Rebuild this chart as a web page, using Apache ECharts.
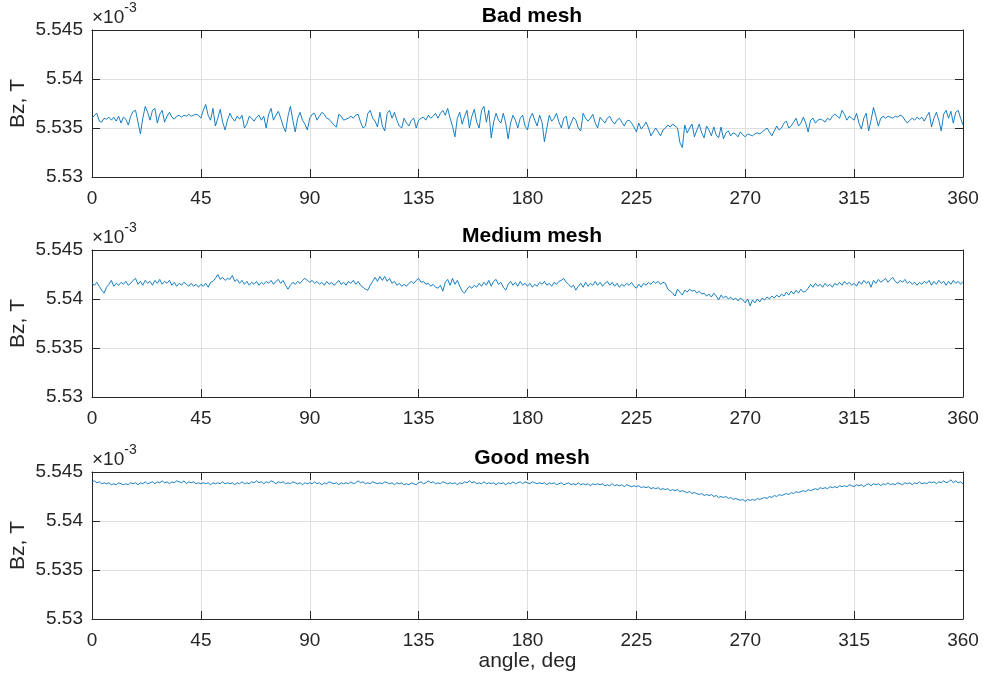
<!DOCTYPE html>
<html>
<head>
<meta charset="utf-8">
<title>Bz vs angle</title>
<script src="https://cdn.jsdelivr.net/npm/echarts@6/dist/echarts.min.js"></script>
<style>
html, body { margin: 0; padding: 0; background: #fff; }
#chart { width: 983px; height: 686px; }
</style>
</head>
<body>
<div id="chart"></div>
<script>
// titles of the three panels
var panelTitles = ['Bad mesh', 'Medium mesh', 'Good mesh'];

// sample grid, degrees
var angles = [];
for (var a = 0; a <= 360; a++) angles.push(a);

// Bz values, in units of 1e-3 T at each degree
var badMesh = [
  5.5360,5.5363,5.5365,5.5357,5.5356,5.5360,5.5359,5.5361,5.5358,5.5361,
  5.5357,5.5362,5.5355,5.5361,5.5359,5.5353,5.5362,5.5367,5.5368,5.5356,
  5.5344,5.5360,5.5372,5.5366,5.5358,5.5368,5.5370,5.5355,5.5364,5.5368,
  5.5356,5.5362,5.5366,5.5361,5.5359,5.5362,5.5363,5.5361,5.5363,5.5362,
  5.5364,5.5362,5.5363,5.5364,5.5363,5.5360,5.5368,5.5374,5.5363,5.5358,
  5.5370,5.5352,5.5360,5.5369,5.5356,5.5348,5.5358,5.5365,5.5360,5.5357,
  5.5362,5.5359,5.5363,5.5350,5.5354,5.5362,5.5360,5.5357,5.5361,5.5363,
  5.5358,5.5362,5.5350,5.5364,5.5370,5.5358,5.5363,5.5367,5.5360,5.5352,
  5.5346,5.5362,5.5372,5.5358,5.5346,5.5360,5.5366,5.5358,5.5354,5.5348,
  5.5360,5.5364,5.5365,5.5358,5.5362,5.5366,5.5364,5.5360,5.5359,5.5356,
  5.5353,5.5351,5.5364,5.5362,5.5358,5.5359,5.5360,5.5362,5.5360,5.5363,
  5.5364,5.5356,5.5350,5.5352,5.5365,5.5368,5.5360,5.5357,5.5351,5.5366,
  5.5352,5.5347,5.5365,5.5368,5.5360,5.5366,5.5358,5.5352,5.5350,5.5360,
  5.5355,5.5352,5.5358,5.5360,5.5350,5.5358,5.5360,5.5361,5.5358,5.5363,
  5.5360,5.5362,5.5365,5.5360,5.5365,5.5368,5.5363,5.5370,5.5360,5.5352,
  5.5341,5.5360,5.5366,5.5354,5.5362,5.5368,5.5350,5.5362,5.5369,5.5356,
  5.5350,5.5368,5.5372,5.5356,5.5368,5.5340,5.5356,5.5365,5.5358,5.5355,
  5.5365,5.5355,5.5339,5.5355,5.5363,5.5358,5.5350,5.5360,5.5363,5.5352,
  5.5348,5.5360,5.5365,5.5358,5.5352,5.5363,5.5356,5.5336,5.5350,5.5363,
  5.5357,5.5360,5.5365,5.5356,5.5350,5.5360,5.5362,5.5349,5.5355,5.5361,
  5.5358,5.5350,5.5347,5.5365,5.5360,5.5357,5.5360,5.5364,5.5355,5.5350,
  5.5361,5.5358,5.5355,5.5360,5.5362,5.5357,5.5354,5.5358,5.5360,5.5356,
  5.5352,5.5357,5.5358,5.5355,5.5351,5.5346,5.5355,5.5349,5.5352,5.5356,
  5.5350,5.5342,5.5346,5.5350,5.5346,5.5342,5.5348,5.5350,5.5353,5.5351,
  5.5354,5.5352,5.5350,5.5335,5.5330,5.5353,5.5345,5.5350,5.5354,5.5341,
  5.5348,5.5354,5.5345,5.5340,5.5352,5.5348,5.5342,5.5351,5.5343,5.5340,
  5.5351,5.5339,5.5345,5.5347,5.5342,5.5345,5.5344,5.5341,5.5346,5.5343,
  5.5341,5.5344,5.5343,5.5342,5.5344,5.5345,5.5344,5.5346,5.5348,5.5350,
  5.5346,5.5342,5.5347,5.5352,5.5348,5.5350,5.5355,5.5357,5.5350,5.5352,
  5.5356,5.5360,5.5352,5.5355,5.5361,5.5355,5.5346,5.5358,5.5360,5.5355,
  5.5358,5.5359,5.5358,5.5356,5.5360,5.5358,5.5362,5.5364,5.5362,5.5360,
  5.5368,5.5364,5.5358,5.5362,5.5360,5.5358,5.5365,5.5355,5.5349,5.5360,
  5.5365,5.5347,5.5358,5.5371,5.5362,5.5352,5.5360,5.5362,5.5360,5.5362,
  5.5361,5.5360,5.5362,5.5361,5.5363,5.5362,5.5358,5.5355,5.5358,5.5360,
  5.5358,5.5361,5.5359,5.5361,5.5357,5.5362,5.5366,5.5351,5.5360,5.5366,
  5.5358,5.5347,5.5364,5.5368,5.5360,5.5367,5.5355,5.5366,5.5368,5.5360,
  5.5353
];

var mediumMesh = [
  5.5416,5.5414,5.5417,5.5413,5.5409,5.5406,5.5412,5.5415,5.5419,5.5413,
  5.5416,5.5414,5.5417,5.5415,5.5418,5.5414,5.5416,5.5419,5.5421,5.5415,
  5.5418,5.5414,5.5419,5.5416,5.5418,5.5414,5.5419,5.5416,5.5420,5.5415,
  5.5418,5.5416,5.5419,5.5414,5.5417,5.5413,5.5416,5.5414,5.5417,5.5415,
  5.5413,5.5416,5.5413,5.5415,5.5412,5.5415,5.5413,5.5416,5.5412,5.5417,
  5.5418,5.5421,5.5425,5.5420,5.5422,5.5419,5.5421,5.5420,5.5424,5.5418,
  5.5420,5.5416,5.5419,5.5415,5.5418,5.5414,5.5417,5.5415,5.5418,5.5414,
  5.5417,5.5415,5.5418,5.5416,5.5419,5.5415,5.5418,5.5420,5.5416,5.5419,
  5.5414,5.5410,5.5414,5.5417,5.5415,5.5418,5.5416,5.5419,5.5421,5.5419,
  5.5417,5.5419,5.5416,5.5418,5.5415,5.5417,5.5414,5.5418,5.5415,5.5417,
  5.5414,5.5416,5.5419,5.5415,5.5417,5.5414,5.5418,5.5416,5.5419,5.5415,
  5.5418,5.5414,5.5412,5.5410,5.5409,5.5414,5.5418,5.5422,5.5418,5.5423,
  5.5419,5.5423,5.5418,5.5421,5.5416,5.5418,5.5414,5.5416,5.5413,5.5415,
  5.5413,5.5416,5.5418,5.5416,5.5419,5.5421,5.5417,5.5418,5.5415,5.5416,
  5.5413,5.5415,5.5412,5.5411,5.5414,5.5408,5.5417,5.5420,5.5414,5.5421,
  5.5415,5.5419,5.5413,5.5408,5.5406,5.5410,5.5413,5.5411,5.5414,5.5412,
  5.5416,5.5413,5.5417,5.5414,5.5419,5.5413,5.5418,5.5420,5.5415,5.5417,
  5.5412,5.5409,5.5415,5.5418,5.5414,5.5417,5.5413,5.5418,5.5414,5.5416,
  5.5413,5.5416,5.5412,5.5415,5.5413,5.5417,5.5415,5.5418,5.5414,5.5416,
  5.5413,5.5417,5.5415,5.5418,5.5419,5.5421,5.5417,5.5415,5.5412,5.5414,
  5.5409,5.5413,5.5416,5.5412,5.5417,5.5413,5.5416,5.5414,5.5418,5.5414,
  5.5417,5.5413,5.5416,5.5418,5.5414,5.5417,5.5413,5.5416,5.5412,5.5415,
  5.5413,5.5416,5.5414,5.5417,5.5413,5.5411,5.5415,5.5412,5.5416,5.5414,
  5.5417,5.5415,5.5418,5.5416,5.5418,5.5415,5.5417,5.5416,5.5410,5.5408,
  5.5406,5.5403,5.5410,5.5407,5.5404,5.5409,5.5407,5.5410,5.5408,5.5409,
  5.5406,5.5408,5.5405,5.5406,5.5403,5.5405,5.5402,5.5406,5.5403,5.5399,
  5.5404,5.5401,5.5403,5.5400,5.5402,5.5399,5.5401,5.5398,5.5401,5.5399,
  5.5396,5.5400,5.5393,5.5399,5.5396,5.5400,5.5397,5.5401,5.5399,5.5402,
  5.5400,5.5403,5.5401,5.5404,5.5402,5.5405,5.5403,5.5407,5.5404,5.5408,
  5.5405,5.5409,5.5406,5.5410,5.5407,5.5408,5.5411,5.5415,5.5412,5.5416,
  5.5413,5.5415,5.5412,5.5416,5.5413,5.5415,5.5412,5.5416,5.5414,5.5417,
  5.5414,5.5418,5.5415,5.5417,5.5414,5.5416,5.5413,5.5418,5.5415,5.5419,
  5.5416,5.5418,5.5412,5.5419,5.5416,5.5420,5.5417,5.5419,5.5421,5.5417,
  5.5420,5.5422,5.5418,5.5416,5.5419,5.5417,5.5420,5.5416,5.5418,5.5415,
  5.5417,5.5414,5.5417,5.5415,5.5418,5.5416,5.5419,5.5414,5.5418,5.5415,
  5.5419,5.5416,5.5418,5.5414,5.5418,5.5415,5.5419,5.5416,5.5418,5.5415,
  5.5418
];

var goodMesh = [
  5.5440,5.5441,5.5439,5.5440,5.5438,5.5439,5.5438,5.5439,5.5437,5.5438,
  5.5437,5.5439,5.5438,5.5437,5.5438,5.5437,5.5439,5.5438,5.5439,5.5437,
  5.5439,5.5438,5.5440,5.5438,5.5439,5.5440,5.5438,5.5440,5.5439,5.5441,
  5.5439,5.5440,5.5438,5.5440,5.5439,5.5441,5.5440,5.5439,5.5441,5.5438,
  5.5440,5.5439,5.5440,5.5438,5.5439,5.5438,5.5439,5.5438,5.5439,5.5437,
  5.5439,5.5438,5.5439,5.5438,5.5440,5.5438,5.5439,5.5438,5.5439,5.5437,
  5.5439,5.5438,5.5440,5.5438,5.5439,5.5438,5.5440,5.5439,5.5441,5.5439,
  5.5440,5.5438,5.5440,5.5439,5.5441,5.5440,5.5438,5.5440,5.5439,5.5440,
  5.5438,5.5439,5.5438,5.5440,5.5439,5.5438,5.5439,5.5437,5.5439,5.5438,
  5.5439,5.5438,5.5440,5.5438,5.5439,5.5437,5.5439,5.5438,5.5440,5.5439,
  5.5438,5.5439,5.5437,5.5439,5.5438,5.5439,5.5438,5.5440,5.5438,5.5439,
  5.5441,5.5439,5.5440,5.5438,5.5439,5.5438,5.5440,5.5439,5.5438,5.5439,
  5.5438,5.5440,5.5439,5.5438,5.5439,5.5437,5.5439,5.5438,5.5439,5.5437,
  5.5438,5.5437,5.5439,5.5438,5.5437,5.5439,5.5440,5.5438,5.5439,5.5441,
  5.5439,5.5440,5.5438,5.5439,5.5438,5.5440,5.5439,5.5438,5.5439,5.5438,
  5.5439,5.5437,5.5439,5.5438,5.5440,5.5439,5.5441,5.5439,5.5440,5.5438,
  5.5439,5.5438,5.5440,5.5438,5.5439,5.5438,5.5439,5.5437,5.5439,5.5438,
  5.5439,5.5437,5.5439,5.5438,5.5440,5.5438,5.5439,5.5440,5.5438,5.5440,
  5.5439,5.5438,5.5440,5.5439,5.5438,5.5439,5.5438,5.5439,5.5437,5.5439,
  5.5438,5.5439,5.5437,5.5438,5.5439,5.5437,5.5438,5.5439,5.5437,5.5438,
  5.5437,5.5439,5.5437,5.5438,5.5437,5.5438,5.5436,5.5438,5.5437,5.5438,
  5.5437,5.5438,5.5436,5.5437,5.5436,5.5438,5.5436,5.5437,5.5436,5.5437,
  5.5435,5.5437,5.5436,5.5435,5.5436,5.5435,5.5436,5.5434,5.5435,5.5434,
  5.5435,5.5433,5.5434,5.5433,5.5434,5.5432,5.5433,5.5432,5.5433,5.5431,
  5.5432,5.5431,5.5432,5.5430,5.5431,5.5430,5.5429,5.5430,5.5428,5.5429,
  5.5428,5.5427,5.5428,5.5426,5.5427,5.5426,5.5427,5.5425,5.5426,5.5424,
  5.5425,5.5424,5.5425,5.5423,5.5424,5.5422,5.5423,5.5422,5.5421,5.5422,
  5.5420,5.5422,5.5421,5.5422,5.5421,5.5423,5.5422,5.5423,5.5424,5.5423,
  5.5425,5.5424,5.5426,5.5425,5.5427,5.5426,5.5427,5.5428,5.5427,5.5429,
  5.5428,5.5430,5.5429,5.5430,5.5431,5.5430,5.5432,5.5431,5.5432,5.5433,
  5.5432,5.5434,5.5433,5.5434,5.5433,5.5435,5.5434,5.5435,5.5434,5.5436,
  5.5435,5.5436,5.5435,5.5437,5.5436,5.5435,5.5437,5.5436,5.5437,5.5435,
  5.5437,5.5438,5.5436,5.5438,5.5437,5.5438,5.5436,5.5438,5.5437,5.5439,
  5.5437,5.5438,5.5437,5.5439,5.5438,5.5437,5.5439,5.5438,5.5439,5.5437,
  5.5439,5.5438,5.5440,5.5438,5.5439,5.5438,5.5440,5.5439,5.5440,5.5438,
  5.5440,5.5439,5.5441,5.5439,5.5440,5.5442,5.5439,5.5441,5.5439,5.5440,
  5.5438
];

var panels = [badMesh, mediumMesh, goodMesh];

var font = "'Liberation Sans', Arial, Helvetica, sans-serif";
var ink = '#262626';
var tops = [30, 250, 472];
var plotH = 147;

var grids = [], xAxes = [], yAxes = [], titles = [], series = [], texts = [];

for (var i = 0; i < 3; i++) {
    grids.push({ left: 92, right: 20, top: tops[i], height: plotH });

    // bottom x axis with labels and grid
    xAxes.push({
        type: 'value', gridIndex: i, min: 0, max: 360, interval: 45,
        position: 'bottom',
        axisLine: { show: true, onZero: false, lineStyle: { color: ink, width: 1 } },
        axisTick: { show: true, inside: true, length: 8, lineStyle: { color: ink } },
        axisLabel: { color: ink, fontSize: 19, fontFamily: font, margin: 12, showMinLabel: true, showMaxLabel: true },
        splitLine: { show: true, lineStyle: { color: '#dfdfdf', width: 1 } },
        name: i === 2 ? 'angle, deg' : '',
        nameLocation: 'middle', nameGap: 32,
        nameTextStyle: { color: ink, fontSize: 21, fontFamily: font }
    });
    // top x axis, box edge only
    xAxes.push({
        type: 'value', gridIndex: i, min: 0, max: 360, interval: 45,
        position: 'top',
        axisLine: { show: true, onZero: false, lineStyle: { color: ink, width: 1 } },
        axisTick: { show: true, inside: true, length: 8, lineStyle: { color: ink } },
        axisLabel: { show: false },
        splitLine: { show: false }
    });

    yAxes.push({
        type: 'value', gridIndex: i, min: 5.53, max: 5.545, interval: 0.005,
        position: 'left',
        axisLine: { show: true, onZero: false, lineStyle: { color: ink, width: 1 } },
        axisTick: { show: true, inside: true, length: 8, lineStyle: { color: ink } },
        axisLabel: {
            color: ink, fontSize: 19, fontFamily: font, margin: 9,
            showMinLabel: true, showMaxLabel: true,
            formatter: function (v) { return String(+v.toFixed(3)); }
        },
        splitLine: { show: true, lineStyle: { color: '#dfdfdf', width: 1 } },
        name: '{a|×10}{b|-3}',
        nameLocation: 'end', nameGap: 3,
        nameTextStyle: {
            align: 'left', verticalAlign: 'bottom',
            rich: {
                a: { fontSize: 19, fontFamily: font, color: ink, lineHeight: 26, verticalAlign: 'bottom' },
                b: { fontSize: 14, fontFamily: font, color: ink, lineHeight: 26, verticalAlign: 'top' }
            }
        }
    });
    yAxes.push({
        type: 'value', gridIndex: i, min: 5.53, max: 5.545, interval: 0.005,
        position: 'right',
        axisLine: { show: true, onZero: false, lineStyle: { color: ink, width: 1 } },
        axisTick: { show: true, inside: true, length: 8, lineStyle: { color: ink } },
        axisLabel: { show: false },
        splitLine: { show: false }
    });

    titles.push({
        text: panelTitles[i], left: 527, top: tops[i] - 29, textAlign: 'center',
        textStyle: { fontSize: 21, fontWeight: 'bold', color: '#000', fontFamily: font }
    });

    var vals = panels[i];
    series.push({
        type: 'line',
        xAxisIndex: 2 * i, yAxisIndex: 2 * i,
        data: angles.map(function (ang, k) { return [ang, vals[k]]; }),
        showSymbol: false,
        lineStyle: { color: '#0072BD', width: 0.9 },
        emphasis: { disabled: true },
        z: 3
    });

    texts.push({
        type: 'text', x: 18, y: tops[i] + plotH / 2, rotation: Math.PI / 2,
        style: {
            text: 'Bz, T', fontSize: 21, fontFamily: font, fill: ink,
            align: 'center', verticalAlign: 'middle',
            textAlign: 'center', textVerticalAlign: 'middle'
        }
    });
}

var option = {
    backgroundColor: '#fff',
    animation: false,
    title: titles,
    grid: grids,
    xAxis: xAxes,
    yAxis: yAxes,
    series: series,
    graphic: texts
};

var myChart = echarts.init(document.getElementById('chart'));
myChart.setOption(option);
</script>
</body>
</html>
